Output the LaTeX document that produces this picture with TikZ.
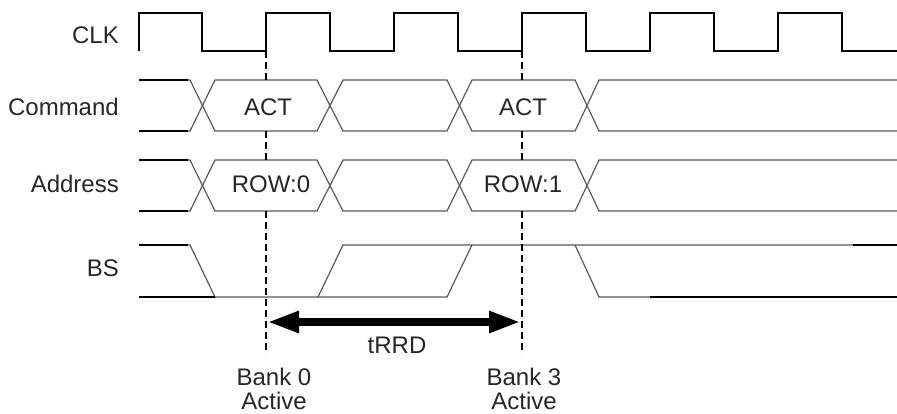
\documentclass[tikz,border=0pt]{standalone}
\usepackage{fontspec}
\setmainfont{Liberation Sans}
\usetikzlibrary{arrows.meta}
\begin{document}
\begin{tikzpicture}[x=1pt,y=-1pt,
  lbl/.style={font=\fontsize{24}{24}\selectfont, text=black!85, inner sep=0pt},
  bus/.style={line width=1.2pt, draw=black!65, line join=miter},
  busdark/.style={line width=1.2pt, draw=black},
  clkline/.style={line width=1.6pt, draw=black},
  guide/.style={line width=1.3pt, draw=black, dash pattern=on 7pt off 4pt},
  span/.style={line width=8pt, draw=black, {Triangle[length=32pt,width=20pt]}-{Triangle[length=32pt,width=20pt]}, shorten <=0pt, shorten >=0pt}]
\useasboundingbox (0,0) rectangle (897,414);

% labels
\node[lbl, anchor=east] (lclk) at (119,35) {CLK};
\node[lbl, anchor=east] (lcmd) at (119,107) {Command};
\node[lbl, anchor=east] (ladr) at (119,184) {Address};
\node[lbl, anchor=east] (lbs) at (119,268) {BS};

% CLK
\draw[clkline] (139,51) -- (139,13) -- (202,13) -- (202,51) -- (266,51) -- (266,13) -- (330,13) -- (330,51)
  -- (394,51) -- (394,13) -- (458,13) -- (458,51) -- (522,51) -- (522,13) -- (586,13) -- (586,51)
  -- (650,51) -- (650,13) -- (714,13) -- (714,51) -- (778,51) -- (778,13) -- (842,13) -- (842,51) -- (897,51);

% Command bus
\draw[bus] (139,80) -- (190,80) -- (215,131) -- (317,131) -- (343,80) -- (447,80) -- (472,131) -- (575,131) -- (599,80) -- (897,80);
\draw[bus] (139,131) -- (190,131) -- (215,80) -- (317,80) -- (343,131) -- (447,131) -- (472,80) -- (575,80) -- (599,131) -- (897,131);
\draw[busdark] (139,80) -- (188,80);
\draw[busdark] (139,131) -- (188,131);

% Address bus
\draw[bus] (139,160) -- (190,160) -- (215,211) -- (317,211) -- (343,160) -- (447,160) -- (472,211) -- (575,211) -- (599,160) -- (897,160);
\draw[bus] (139,211) -- (190,211) -- (215,160) -- (317,160) -- (343,211) -- (447,211) -- (472,160) -- (575,160) -- (599,211) -- (897,211);
\draw[busdark] (139,160) -- (188,160);
\draw[busdark] (139,211) -- (188,211);

% BS
\draw[bus] (139,245) -- (190,245) -- (215,297);
\draw[bus] (139,297) -- (447,297) -- (472,245);
\draw[bus] (318,297) -- (343,245) -- (897,245);
\draw[bus] (575,245) -- (599,297) -- (897,297);
\draw[busdark] (139,245) -- (188,245);
\draw[busdark] (139,297) -- (215,297);
\draw[busdark] (650,297) -- (897,297);
\draw[busdark] (853,245) -- (897,245);

% bus texts
\node[lbl] (act0) at (268,107) {ACT};
\node[lbl] (act1) at (523,107) {ACT};
\node[lbl] (row0) at (271,184) {ROW:0};
\node[lbl] (row1) at (523,184) {ROW:1};

% guide lines
\coordinate (g0a) at (266,51);
\coordinate (g0b) at (266,80);
\coordinate (g0c) at (266,131);
\coordinate (g0d) at (266,160);
\coordinate (g0e) at (266,211);
\coordinate (g0f) at (266,354);
\coordinate (g1a) at (522,51);
\coordinate (g1b) at (522,80);
\coordinate (g1c) at (522,131);
\coordinate (g1d) at (522,160);
\coordinate (g1e) at (522,211);
\coordinate (g1f) at (522,354);
\draw[guide] (g0a) -- (g0b);
\draw[guide] (g0c) -- (g0d);
\draw[guide] (g0e) -- (g0f);
\draw[guide] (g1a) -- (g1b);
\draw[guide] (g1c) -- (g1d);
\draw[guide] (g1e) -- (g1f);

% tRRD arrow
\coordinate (al) at (267,322);
\coordinate (ar) at (521,322);
\draw[span] (al) -- (ar);
\node[lbl] (trrd) at (397,345) {tRRD};

% bottom labels
\node[lbl, align=center] (b0) at (274,389) {Bank 0\\Active};
\node[lbl, align=center] (b3) at (524,389) {Bank 3\\Active};
\end{tikzpicture}
\end{document}
